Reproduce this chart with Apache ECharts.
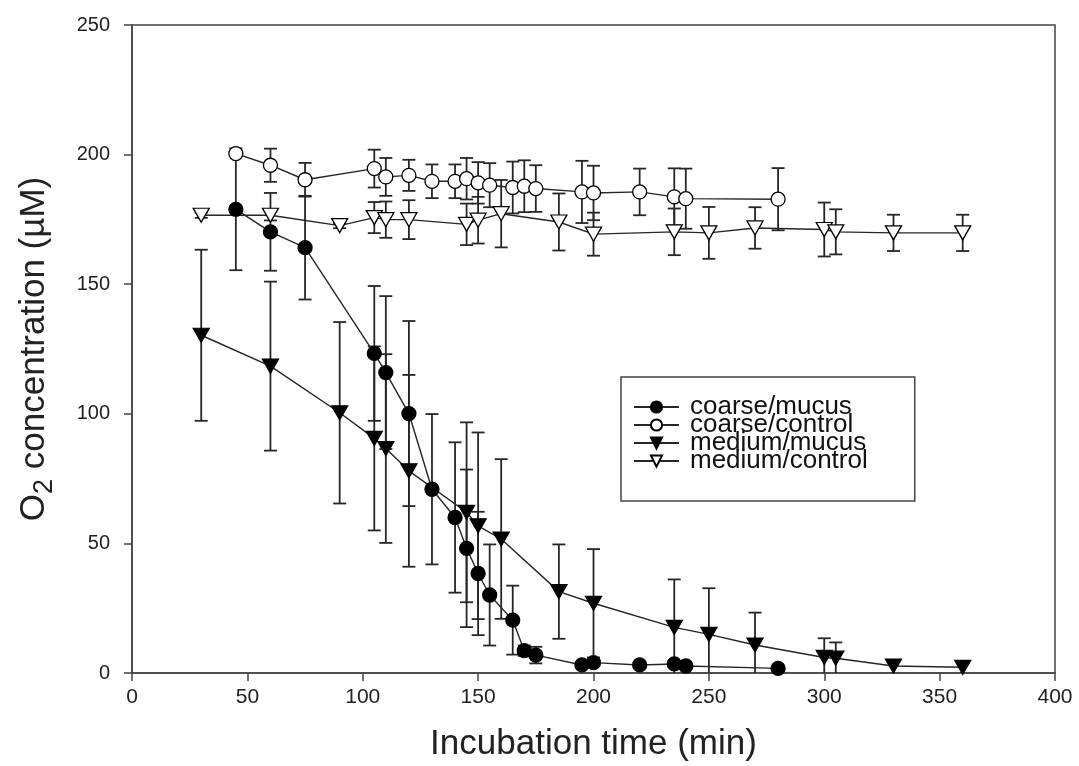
<!DOCTYPE html>
<html>
<head>
<meta charset="utf-8">
<script src="https://cdn.jsdelivr.net/npm/echarts@6/dist/echarts.min.js"></script>
<style>html,body{margin:0;padding:0;background:#fff}#c{width:1079px;height:766px}</style>
</head>
<body>
<div id="c"></div>
<script>
// ---- data ----
const seriesNames = ['coarse/mucus', 'coarse/control', 'medium/mucus', 'medium/control'];
const xTicks = [0, 50, 100, 150, 200, 250, 300, 350, 400];
const yTicks = [0, 50, 100, 150, 200, 250];

const coarseTime = [45, 60, 75, 105, 110, 120, 130, 140, 145, 150, 155, 165, 170, 175, 195, 200, 220, 235, 240, 280];
const coarseMucus = [178.9, 170.2, 164.1, 123.3, 115.9, 100.1, 70.9, 60.0, 48.1, 38.4, 30.1, 20.4, 8.6, 6.9, 3.1, 4.0, 3.1, 3.5, 2.7, 1.8];
const coarseMucusErr = [23.5, 15, 20, 26, 29.5, 35.7, 29, 29, 30.4, 23.8, 19.5, 13.3, 2, 3.2, 1, 1, 1, 1, 1, 1];
const coarseControl = [200.4, 195.9, 190.3, 194.6, 191.4, 192.0, 189.7, 189.7, 190.7, 189.1, 188.2, 187.3, 187.8, 186.9, 185.6, 185.2, 185.6, 183.7, 183.0, 182.8];
const coarseControlErr = [1, 6.4, 6.5, 7.3, 7.3, 6, 6.5, 6.5, 8, 8, 8.5, 10, 10, 9, 12, 10.5, 9, 11, 11.6, 12];

const mediumTime = [30, 60, 90, 105, 110, 120, 145, 150, 160, 185, 200, 235, 250, 270, 300, 305, 330, 360];
const mediumMucus = [130.3, 118.4, 100.4, 90.5, 86.6, 78.0, 62.0, 56.8, 51.7, 31.4, 26.9, 17.6, 14.9, 10.8, 6.0, 5.7, 2.7, 2.2];
const mediumMucusErr = [33, 32.6, 35, 35.5, 36.4, 37, 34.7, 36, 30.8, 18.2, 20.9, 18.5, 17.8, 12.5, 7.4, 6.1, 0, 0];
const mediumControl = [176.6, 176.6, 172.6, 175.7, 174.9, 174.9, 173.1, 174.7, 177.2, 174.0, 169.3, 170.2, 169.8, 171.7, 171.1, 170.2, 169.8, 169.8];
const mediumControlErr = [1, 2, 1, 6, 7, 7.5, 8, 9, 13, 11, 8.3, 9, 10, 8, 10.4, 8.7, 7, 7];

// ---- build ----
const INK = '#262626';
function pts(t, v) { return t.map((x, i) => [x, v[i]]); }
function errs(t, v, e) { return t.map((x, i) => [x, v[i] - e[i], v[i] + e[i]]); }

function errSeries(data, z) {
  return {
    type: 'custom', z: z, silent: true, clip: true, legendHoverLink: false,
    renderItem: function (params, api) {
      const x = api.value(0), lo = api.value(1), hi = api.value(2);
      if (hi - lo < 0.01) return null;
      const p1 = api.coord([x, hi]), p0 = api.coord([x, lo]);
      const w = 6.5;
      return {
        type: 'group',
        children: [
          { type: 'line', shape: { x1: p1[0], y1: p1[1], x2: p0[0], y2: p0[1] }, style: { stroke: INK, lineWidth: 1.8 } },
          { type: 'line', shape: { x1: p1[0] - w, y1: p1[1], x2: p1[0] + w, y2: p1[1] }, style: { stroke: INK, lineWidth: 1.8 } },
          { type: 'line', shape: { x1: p0[0] - w, y1: p0[1], x2: p0[0] + w, y2: p0[1] }, style: { stroke: INK, lineWidth: 1.8 } }
        ]
      };
    },
    encode: { x: 0, y: [1, 2] },
    data: data
  };
}

function lineSeries(name, data, symbol, size, filled, rotate, z) {
  return {
    name: name, type: 'line', data: data, z: z,
    symbol: symbol, symbolSize: size, symbolRotate: rotate || 0, showAllSymbol: true,
    lineStyle: { color: INK, width: 1.4 },
    itemStyle: { color: filled ? '#000' : '#fff', borderColor: '#000', borderWidth: 1.3, opacity: 1 },
    emphasis: { disabled: true },
    animation: false
  };
}

const chart = echarts.init(document.getElementById('c'), null, { renderer: 'canvas' });
const labelFont = 'Liberation Sans, Arial, sans-serif';
chart.setOption({
  animation: false,
  backgroundColor: '#fff',
  grid: { left: 132, right: 24, top: 25, bottom: 93, show: true, borderColor: '#444', borderWidth: 1.5,
    outerBoundsMode: 'none', containLabel: false },
  xAxis: {
    type: 'value', min: 0, max: 400, interval: 50,
    name: 'Incubation time (min)', nameLocation: 'middle', nameGap: 54,
    nameTextStyle: { fontFamily: labelFont, fontSize: 35, color: '#222' },
    axisLine: { show: true, lineStyle: { color: '#444', width: 1.5 } },
    axisTick: { show: true, length: 8, lineStyle: { color: '#444', width: 1.5 } },
    axisLabel: { fontFamily: labelFont, fontSize: 21, color: '#222', margin: 14,
      formatter: v => xTicks.includes(v) ? String(v) : '' },
    splitLine: { show: false }
  },
  yAxis: {
    type: 'value', min: 0, max: 250, interval: 50,
    name: '{o|O}{s|2}{o| concentration (µM)}', nameLocation: 'middle', nameGap: 74, nameRotate: 90,
    nameTextStyle: { fontFamily: labelFont, color: '#222',
      rich: {
        o: { fontFamily: labelFont, fontSize: 35, color: '#222' },
        s: { fontFamily: labelFont, fontSize: 27, color: '#222', padding: [20, 0, 0, 0] }
      } },
    axisLine: { show: true, lineStyle: { color: '#444', width: 1.5 } },
    axisTick: { show: true, length: 8, lineStyle: { color: '#444', width: 1.5 } },
    axisLabel: { fontFamily: labelFont, fontSize: 20, color: '#222', margin: 22,
      formatter: v => yTicks.includes(v) ? String(v) : '' },
    splitLine: { show: false }
  },
  legend: {
    data: seriesNames, orient: 'vertical', left: 621, top: 377,
    borderColor: '#444', borderWidth: 1.5, borderRadius: 0, backgroundColor: '#fff',
    padding: [17, 47, 27, 12], itemGap: -8, itemWidth: 45, itemHeight: 14,
    selectedMode: false,
    textStyle: { fontFamily: labelFont, fontSize: 26, color: '#111', padding: [0, 0, 0, 6] }
  },
  series: [
    errSeries(errs(coarseTime, coarseMucus, coarseMucusErr), 1),
    errSeries(errs(coarseTime, coarseControl, coarseControlErr), 1),
    errSeries(errs(mediumTime, mediumMucus, mediumMucusErr), 1),
    errSeries(errs(mediumTime, mediumControl, mediumControlErr), 1),
    lineSeries(seriesNames[0], pts(coarseTime, coarseMucus), 'circle', 14, true, 0, 3),
    lineSeries(seriesNames[1], pts(coarseTime, coarseControl), 'circle', 14, false, 0, 3),
    lineSeries(seriesNames[2], pts(mediumTime, mediumMucus), 'triangle', [16, 14], true, 180, 3),
    lineSeries(seriesNames[3], pts(mediumTime, mediumControl), 'triangle', [16, 14], false, 180, 3)
  ]
});
</script>
</body>
</html>
